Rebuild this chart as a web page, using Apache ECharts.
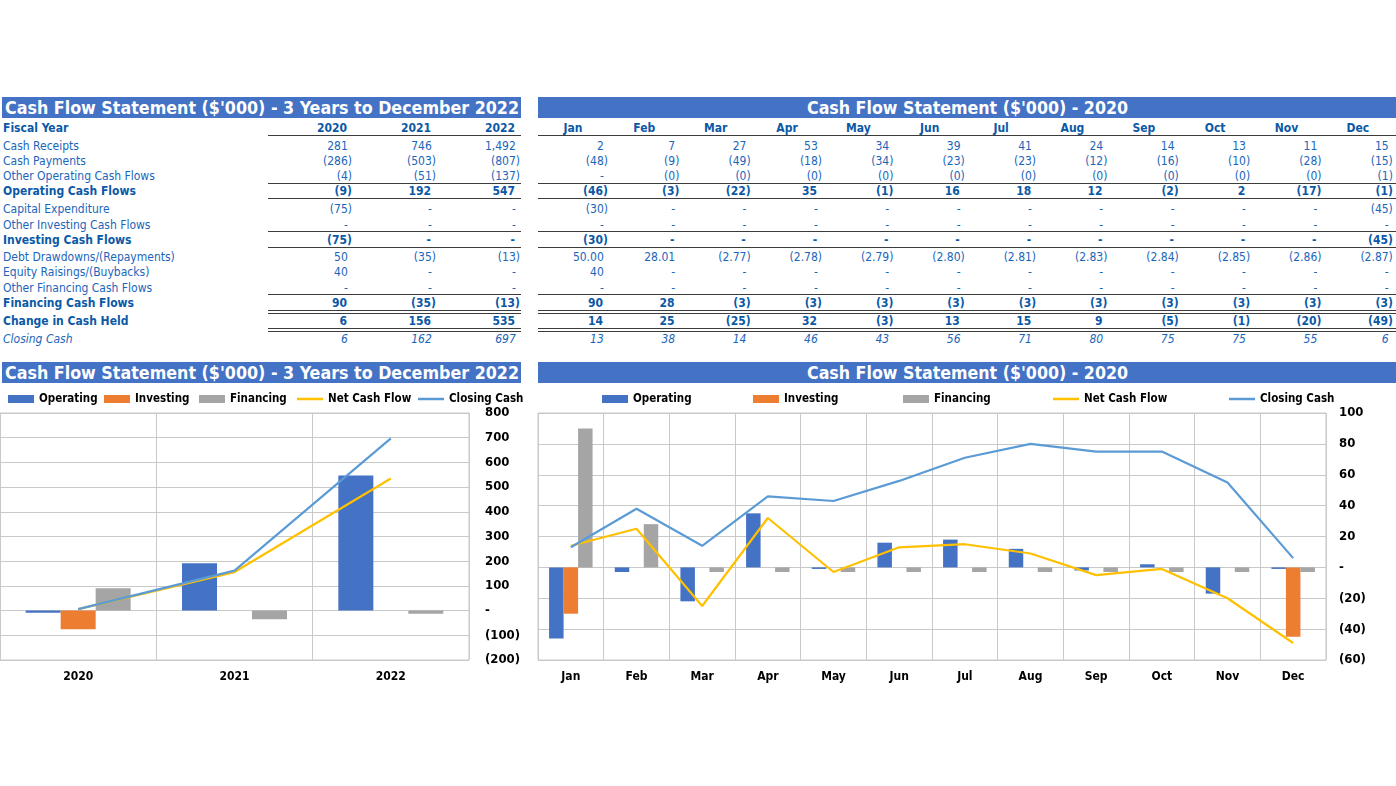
<!DOCTYPE html>
<html><head><meta charset="utf-8">
<script src="https://cdn.jsdelivr.net/npm/echarts/dist/echarts.min.js"></script>
<style>
html,body{margin:0;padding:0;}
body{width:1396px;height:786px;background:#fff;position:relative;overflow:hidden;font-family:'DejaVu Sans Condensed','DejaVu Sans',sans-serif;font-stretch:condensed;}
.bar{position:absolute;background:#4472C4;height:21px;overflow:hidden;}
.bar span{position:absolute;top:0;color:#fff;font-weight:bold;font-size:18px;line-height:21px;white-space:nowrap;display:inline-block;}
.t{position:absolute;font-size:12px;height:16px;line-height:16px;white-space:nowrap;color:#1a66ba;}
.r{text-align:right}
.c{text-align:center}
.b{font-weight:bold;color:#0b59a6}
.i{font-style:italic}
.ln{position:absolute;height:0;border-top:1.6px solid #3c3c3c}
.ln2{position:absolute;height:0;border-top:1px solid #3c3c3c}
.hid{visibility:hidden}
#c1{position:absolute;left:0;top:385px;width:530px;height:305px;}
#c2{position:absolute;left:535px;top:385px;width:861px;height:305px;}
</style></head>
<body>
<div id="root"></div>
<div id="c1"></div>
<div id="c2"></div>
<script>
// ---------- DATA ----------
const years = ['2020', '2021', '2022'];
const months = ['Jan','Feb','Mar','Apr','May','Jun','Jul','Aug','Sep','Oct','Nov','Dec'];
const rowLabels = ['Cash Receipts','Cash Payments','Other Operating Cash Flows','Operating Cash Flows','Capital Expenditure','Other Investing Cash Flows','Investing Cash Flows','Debt Drawdowns/(Repayments)','Equity Raisings/(Buybacks)','Other Financing Cash Flows','Financing Cash Flows','Change in Cash Held','Closing Cash'];
const legendNames = ['Operating','Investing','Financing','Net Cash Flow','Closing Cash'];
const titleAnnual = "Cash Flow Statement ($'000) - 3 Years to December 2022";
const titleMonthly = "Cash Flow Statement ($'000) - 2020";

// annual
const yrReceipts  = [281, 746, 1492];
const yrPayments  = [-286, -503, -807];
const yrOtherOp   = [-4, -51, -137];
const yrOperating = [-9, 192, 547];
const yrCapex     = [-75, 0, 0];
const yrOtherInv  = [0, 0, 0];
const yrInvesting = [-75, 0, 0];
const yrDebt      = [50, -35, -13];
const yrEquity    = [40, 0, 0];
const yrOtherFin  = [0, 0, 0];
const yrFinancing = [90, -35, -13];
const yrChange    = [6, 156, 535];
const yrClosing   = [6, 162, 697];

// monthly 2020
const moReceipts  = [2, 7, 27, 53, 34, 39, 41, 24, 14, 13, 11, 15];
const moPayments  = [-48, -9, -49, -18, -34, -23, -23, -12, -16, -10, -28, -15];
const moOtherOp   = [0, -0.2, -0.2, -0.2, -0.2, -0.2, -0.2, -0.2, -0.2, -0.2, -0.2, -0.6];
const moOperating = [-46, -3, -22, 35, -1, 16, 18, 12, -2, 2, -17, -1];
const moCapex     = [-30, 0, 0, 0, 0, 0, 0, 0, 0, 0, 0, -45];
const moOtherInv  = [0, 0, 0, 0, 0, 0, 0, 0, 0, 0, 0, 0];
const moInvesting = [-30, 0, 0, 0, 0, 0, 0, 0, 0, 0, 0, -45];
const moDebt      = [50.00, 28.01, -2.77, -2.78, -2.79, -2.80, -2.81, -2.83, -2.84, -2.85, -2.86, -2.87];
const moEquity    = [40, 0, 0, 0, 0, 0, 0, 0, 0, 0, 0, 0];
const moOtherFin  = [0, 0, 0, 0, 0, 0, 0, 0, 0, 0, 0, 0];
const moFinancing = [90, 28, -3, -3, -3, -3, -3, -3, -3, -3, -3, -3];
const moChange    = [14, 25, -25, 32, -3, 13, 15, 9, -5, -1, -20, -49];
const moClosing   = [13, 38, 14, 46, 43, 56, 71, 80, 75, 75, 55, 6];

const yrRows = [yrReceipts, yrPayments, yrOtherOp, yrOperating, yrCapex, yrOtherInv, yrInvesting, yrDebt, yrEquity, yrOtherFin, yrFinancing, yrChange, yrClosing];
const moRows = [moReceipts, moPayments, moOtherOp, moOperating, moCapex, moOtherInv, moInvesting, moDebt, moEquity, moOtherFin, moFinancing, moChange, moClosing];

// ---------- LAYOUT ----------
const FONT = "'DejaVu Sans Condensed', 'DejaVu Sans', sans-serif";
const rowY = [146, 161, 176, 191, 209, 225, 240, 257, 272, 288, 303, 321, 339];
const rowCls = ['', '', '', 'b', '', '', 'b', '', '', '', 'b', 'b', 'i'];
const moDec = [0,0,0,0,0,0,0,2,0,0,0,0,0];
const yrRight = [352, 436, 520];
const moRight0 = 608, moStep = 71.35;

const root = document.getElementById('root');
function add(html){ root.insertAdjacentHTML('beforeend', html); }
function fmtNum(v, dec){
  if (v === 0) return '-<span class="hid">)</span>';
  const a = Math.abs(v).toLocaleString('en-US', {minimumFractionDigits: dec, maximumFractionDigits: dec});
  return v < 0 ? '(' + a + ')' : a + '<span class="hid">)</span>';
}
function cell(x, y, w, cls, html, align){
  add(`<div class="t ${align} ${cls}" style="left:${x}px;top:${y-8}px;width:${w}px">${html}</div>`);
}
// title bars
add(`<div class="bar" style="left:2px;top:97px;width:519px"><span data-fit="514" style="left:3px">${titleAnnual}</span></div>`);
add(`<div class="bar" style="left:538px;top:97px;width:858px"><span data-fit="321" data-center="429">${titleMonthly}</span></div>`);
add(`<div class="bar" style="left:2px;top:362px;width:519px"><span data-fit="514" style="left:3px">${titleAnnual}</span></div>`);
add(`<div class="bar" style="left:538px;top:362px;width:858px"><span data-fit="321" data-center="429">${titleMonthly}</span></div>`);

// headers
cell(3, 128, 200, 'b', 'Fiscal Year', '');
years.forEach((y, j) => cell(yrRight[j]-80, 128, 80, 'b', y + '<span class="hid">)</span>', 'r'));
months.forEach((m, j) => cell(moRight0 + j*moStep - 70, 128, 70, 'b', m, 'c'));

// rows
rowLabels.forEach((lab, i) => {
  cell(3, rowY[i], 260, rowCls[i], lab, '');
  yrRows[i].forEach((v, j) => cell(yrRight[j]-82, rowY[i], 82, rowCls[i], fmtNum(v, 0), 'r'));
  moRows[i].forEach((v, j) => cell(moRight0 + j*moStep - 70, rowY[i], 70, rowCls[i], fmtNum(v, moDec[i]), 'r'));
});

// rules
function rule(y, dbl){
  [[268, 521], [538, 1396]].forEach(([a, b]) => {
    if (dbl) {
      add(`<div class="ln2" style="left:${a}px;width:${b-a}px;top:${y}px"></div>`);
      add(`<div class="ln2" style="left:${a}px;width:${b-a}px;top:${y+3}px"></div>`);
    } else add(`<div class="ln" style="left:${a}px;width:${b-a}px;top:${y}px"></div>`);
  });
}
[135, 183, 198, 231, 247, 294].forEach(y => rule(y, false));
[310, 328].forEach(y => rule(y, true));

// fit titles
document.querySelectorAll('[data-fit]').forEach(el => {
  const target = +el.dataset.fit;
  const w = el.getBoundingClientRect().width;
  const s = target / w;
  el.style.transformOrigin = 'left center';
  el.style.transform = `scaleX(${s})`;
  if (el.dataset.center) el.style.left = (+el.dataset.center - target/2) + 'px';
});

// ---------- CHARTS ----------
const COLORS = ['#4472C4', '#ED7D31', '#A5A5A5', '#FFC000', '#5B9BD5'];
const GRID_C = '#c9c9c9';
function fmtAxis(v){ return v === 0 ? '-' : (v < 0 ? '(' + Math.abs(v) + ')' : String(v)); }

function legends(lefts){
  return legendNames.map((n, k) => ({
    left: lefts[k], top: 8, padding: 0,
    itemWidth: 26, itemHeight: k < 3 ? 8 : 2.5, itemGap: 0,
    selectedMode: false,
    data: [{name: n, icon: 'rect'}],
    textStyle: {fontFamily: FONT, fontWeight: 'bold', fontSize: 11.5, color: '#000'}
  }));
}
function makeOption(cats, op, inv, fin, net, close, opts){
  const barBase = {type: 'bar', barWidth: opts.barWidth, barGap: '0%'};
  return {
    animation: false,
    textStyle: {fontFamily: FONT},
    legend: legends(opts.legendLefts),
    grid: {left: opts.left, right: opts.right, top: 28, height: 247, show: true, borderColor: GRID_C, borderWidth: 1},
    xAxis: {
      type: 'category', data: cats,
      axisLine: {show: false, onZero: false}, axisTick: {show: false},
      axisLabel: {fontFamily: FONT, fontWeight: 'bold', color: '#000', fontSize: 12, margin: 11},
      splitLine: {show: true, lineStyle: {color: GRID_C, width: 1}}
    },
    yAxis: {
      type: 'value', position: 'right', min: opts.min, max: opts.max, interval: opts.interval,
      axisLine: {show: false}, axisTick: {show: false},
      axisLabel: {formatter: fmtAxis, fontFamily: FONT, fontWeight: 'bold', color: '#000', fontSize: 13, margin: opts.labelMargin},
      splitLine: {show: true, lineStyle: {color: GRID_C, width: 1}}
    },
    series: [
      Object.assign({}, barBase, {name: legendNames[0], data: op, itemStyle: {color: COLORS[0]}}),
      Object.assign({}, barBase, {name: legendNames[1], data: inv, itemStyle: {color: COLORS[1]}}),
      Object.assign({}, barBase, {name: legendNames[2], data: fin, itemStyle: {color: COLORS[2]}}),
      {type: 'line', name: legendNames[3], data: net, symbol: 'none', z: 5, lineStyle: {color: COLORS[3], width: 2.2}, itemStyle: {color: COLORS[3]}},
      {type: 'line', name: legendNames[4], data: close, symbol: 'none', z: 6, lineStyle: {color: COLORS[4], width: 2.2}, itemStyle: {color: COLORS[4]}}
    ]
  };
}

const ch1 = echarts.init(document.getElementById('c1'));
ch1.setOption(makeOption(years, yrOperating, yrInvesting, yrFinancing, yrChange, yrClosing, {
  barWidth: 35, left: 0, right: 61, min: -200, max: 800, interval: 100, labelMargin: 16,
  legendLefts: [8, 104, 199, 297, 418]
}));
const ch2 = echarts.init(document.getElementById('c2'));
ch2.setOption(makeOption(months, moOperating, moInvesting, moFinancing, moChange, moClosing, {
  barWidth: 14.5, left: 3, right: 70, min: -60, max: 100, interval: 20, labelMargin: 13,
  legendLefts: [67, 218, 368, 518, 694]
}));
</script>
</body></html>
